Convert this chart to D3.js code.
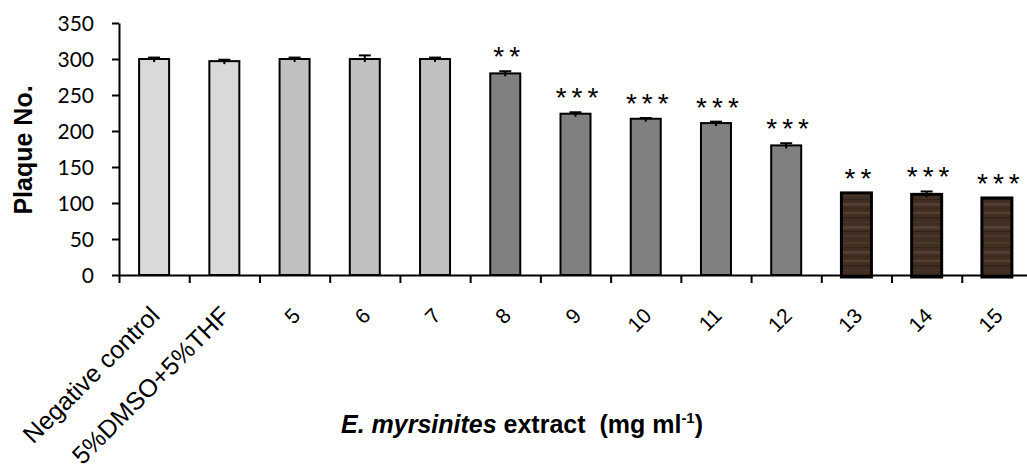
<!DOCTYPE html>
<html lang="en">
<head>
    <meta charset="utf-8">
    <title>Plaque No.</title>
    <script src="https://cdn.jsdelivr.net/npm/d3@7"></script>
    <style>
        body { margin: 0; background: #fff; }
        svg { display: block; }
        .ytick text { font-family: Lato, "Open Sans", sans-serif; font-size: 21px; fill: #000; }
        .xlab { font-family: "Liberation Sans", Arial, sans-serif; font-size: 25px; fill: #000; }
        .xlab.num { font-size: 21px; }
        .stars { font-family: "Liberation Sans", Arial, sans-serif; font-size: 28px; fill: #000; letter-spacing: 5px; }
        .title { font-family: "Liberation Sans", Arial, sans-serif; font-weight: bold; font-size: 25px; fill: #000; white-space: pre; }
    </style>
</head>
<body>
<div id="chart"></div>
<script>
    // data
    var categories = ['Negative control', '5%DMSO+5%THF', '5', '6', '7', '8', '9', '10', '11', '12', '13', '14', '15'];
    var plaques = [300, 297, 300, 300, 300, 280, 224, 217, 211, 180, 114, 112, 107];
    var errors = [2, 2, 2, 5, 2, 3, 2, 1, 2, 3, 0, 4, 0];
    var stars = ['', '', '', '', '', '**', '***', '***', '***', '***', '**', '***', '***'];
    var groups = ['control', 'control', 'low', 'low', 'low', 'mid', 'mid', 'mid', 'mid', 'mid', 'high', 'high', 'high'];
    var yTicks = [0, 50, 100, 150, 200, 250, 300, 350];

    var width = 1027, height = 472;
    var mLeft = 119, mRight = 1032, mBottom = 275, mTop = 23;

    var svg = d3.select('#chart').append('svg')
        .attr('width', width)
        .attr('height', height);

    // wood-like fill for the last group
    var defs = svg.append('defs');
    var wood = defs.append('pattern')
        .attr('id', 'wood')
        .attr('patternUnits', 'userSpaceOnUse')
        .attr('width', 40).attr('height', 48);
    wood.append('rect').attr('width', 40).attr('height', 48).attr('fill', '#402e23');
    [[2, 2, '#4b372a'], [7, 1, '#33241a'], [11, 3, '#513d2f'], [16, 1, '#38281d'],
     [20, 2, '#56412f'], [25, 2, '#35261c'], [30, 1, '#4a3628'], [34, 3, '#544031'],
     [39, 1, '#31231a'], [43, 2, '#4c382a']].forEach(function (s) {
        wood.append('rect').attr('y', s[0]).attr('width', 40).attr('height', s[1]).attr('fill', s[2]);
    });

    var fills = { control: '#d9d9d9', low: '#c0c0c0', mid: '#808080', high: 'url(#wood)' };

    var x = d3.scaleBand().domain(categories).range([mLeft, mRight]).padding(0);
    var xIdx = d3.scaleLinear().domain([0, categories.length]).range([mLeft, mRight]);
    var y = d3.scaleLinear().domain([0, 350]).range([mBottom, mTop]);
    var barW = 30;

    var data = categories.map(function (c, i) {
        return { cat: c, v: plaques[i], e: errors[i], s: stars[i], g: groups[i] };
    });

    // bars
    svg.selectAll('rect.bar')
        .data(data)
        .enter()
        .append('rect')
        .attr('class', 'bar')
        .attr('x', function (d) { return x(d.cat) + x.bandwidth() / 2 - barW / 2; })
        .attr('y', function (d) { return y(d.v); })
        .attr('width', barW)
        .attr('height', function (d) { return y(0) - y(d.v) + (d.g === 'high' ? 2 : 0); })
        .attr('fill', function (d) { return fills[d.g]; })
        .attr('stroke', '#000')
        .attr('stroke-width', function (d) { return d.g === 'high' ? 3 : 2; });

    // error bars (upper half)
    var err = svg.selectAll('g.err')
        .data(data.filter(function (d) { return d.e > 0; }))
        .enter()
        .append('g')
        .attr('class', 'err')
        .attr('stroke', '#000')
        .attr('stroke-width', 2);
    err.append('line')
        .attr('x1', function (d) { return x(d.cat) + x.bandwidth() / 2; })
        .attr('x2', function (d) { return x(d.cat) + x.bandwidth() / 2; })
        .attr('y1', function (d) { return y(d.v) + 3; })
        .attr('y2', function (d) { return y(d.v + d.e); });
    err.append('line')
        .attr('x1', function (d) { return x(d.cat) + x.bandwidth() / 2 - 6; })
        .attr('x2', function (d) { return x(d.cat) + x.bandwidth() / 2 + 6; })
        .attr('y1', function (d) { return y(d.v + d.e); })
        .attr('y2', function (d) { return y(d.v + d.e); });

    // significance stars
    svg.selectAll('text.stars')
        .data(data.filter(function (d) { return d.s; }))
        .enter()
        .append('text')
        .attr('class', 'stars')
        .attr('text-anchor', 'middle')
        .attr('x', function (d) { return x(d.cat) + x.bandwidth() / 2 + 4; })
        .attr('y', function (d) { return y(d.v + d.e) - 5; })
        .text(function (d) { return d.s; });

    // y axis
    var yAxis = d3.axisLeft(y).tickValues(yTicks).tickSize(7).tickSizeOuter(0).tickPadding(18);
    var gy = svg.append('g')
        .attr('class', 'ytick')
        .attr('transform', 'translate(' + mLeft + ',0)')
        .call(yAxis);
    gy.select('.domain').attr('stroke-width', 2);
    gy.selectAll('.tick line').attr('stroke-width', 2);
    gy.selectAll('.tick text').attr('dy', '0.36em');

    // x axis (ticks between categories)
    var xAxis = d3.axisBottom(xIdx).ticks(categories.length).tickSize(8).tickSizeOuter(0).tickFormat('');
    var gx = svg.append('g')
        .attr('transform', 'translate(0,' + mBottom + ')')
        .call(xAxis);
    gx.select('.domain').attr('stroke-width', 2);
    gx.selectAll('.tick line').attr('stroke-width', 2);

    // rotated category labels
    svg.selectAll('text.xlab')
        .data(categories)
        .enter()
        .append('text')
        .attr('class', function (d) { return isNaN(+d) ? 'xlab' : 'xlab num'; })
        .attr('text-anchor', 'end')
        .attr('transform', function (d) {
            return 'translate(' + (x(d) + x.bandwidth() / 2 + 7) + ',' + (mBottom + 42) + ') rotate(-45)';
        })
        .text(function (d) { return d; });

    // axis titles
    svg.append('text')
        .attr('class', 'title')
        .attr('text-anchor', 'middle')
        .attr('transform', 'translate(32,150) rotate(-90)')
        .text('Plaque No.');

    var xt = svg.append('text')
        .attr('class', 'title')
        .attr('text-anchor', 'middle')
        .attr('x', 522)
        .attr('y', 433);
    xt.append('tspan').attr('font-style', 'italic').text('E. myrsinites');
    xt.append('tspan').text(' extract  (mg ml');
    xt.append('tspan').attr('font-size', '15px').attr('dy', '-10').text('-1');
    xt.append('tspan').attr('dy', '10').text(')');
</script>
</body>
</html>
